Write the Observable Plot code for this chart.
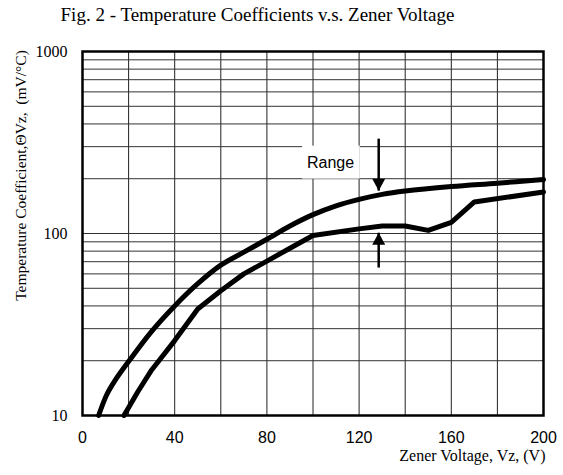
<!DOCTYPE html>
<html>
<head>
<meta charset="utf-8">
<script src="https://cdn.jsdelivr.net/npm/d3@7"></script>
<script src="https://cdn.jsdelivr.net/npm/@observablehq/plot@0.6"></script>
<style>
  body { margin: 0; background: #fff; }
  #title { width: 515px; height: 30px; line-height: 30px; text-align: center;
           font-family: "Liberation Serif", serif; font-size: 19px; color: #000; white-space: nowrap; }
</style>
</head>
<body>
<div id="title">Fig. 2 - Temperature Coefficients v.s. Zener Voltage</div>
<div id="chart"></div>
<script>
// Upper limit curve (V, mV/°C)
const upperV  = [7, 10.5, 14, 20, 30, 40, 50, 60, 70, 80, 90, 100, 110, 120, 130, 140, 160, 180, 200];
const upperTC = [10, 13, 15.5, 19.8, 29, 40, 53, 67, 79, 93, 110, 127, 142, 154, 164, 171, 181, 189, 198];
// Lower limit curve
const lowerV  = [18, 24, 30, 40, 50, 60, 70, 80, 90, 100, 120, 130, 140, 150, 160, 170, 200];
const lowerTC = [10, 13.5, 17.8, 25.8, 38.5, 48.5, 60, 70.5, 83, 97.5, 106, 110, 110, 104, 115, 149, 169];

const xTicks = [0, 40, 80, 120, 160, 200];
const yTicks = [10, 100, 1000];
const xGrid = d3.range(0, 201, 20);
const yGrid = [...d3.range(10, 100, 10), ...d3.range(100, 1001, 100)];

const rangeLabel = "Range";
const rangeBox = {x1: 95.5, x2: 120.5, y1: 199, y2: 302};
const rangeTextPos = {x: 107.6, y: 245};
const arrowX = 128.5;
const downArrow = {from: 332, to: 172};
const upArrow = {from: 65, to: 101};

const yLabel = "Temperature Coefficient,ΘVz,\u00a0\u00a0(mV/°C)";
const xLabel = "Zener Voltage, Vz, (V)";

const upper = upperV.map((v, i) => ({v, tc: upperTC[i]}));
const lower = lowerV.map((v, i) => ({v, tc: lowerTC[i]}));

const triSym = (dir) => ({
  draw(ctx, size) {
    const w = 6.5, h = 12;
    ctx.moveTo(0, 0);
    ctx.lineTo(-w, -dir * h);
    ctx.lineTo(w, -dir * h);
    ctx.closePath();
  }
});

const serif = "Liberation Serif, Times New Roman, serif";
const sans = "Liberation Sans, Arial, sans-serif";

const plot = Plot.plot({
  width: 563,
  height: 445,
  marginLeft: 82,
  marginRight: 20,
  marginTop: 21,
  marginBottom: 60,
  x: {domain: [0, 200]},
  y: {type: "log", domain: [10, 1000]},
  marks: [
    Plot.ruleX(xGrid, {stroke: "#222", strokeWidth: 1}),
    Plot.ruleY(yGrid, {stroke: "#333", strokeWidth: 1}),
    Plot.rect([rangeBox], {x1: "x1", x2: "x2", y1: "y1", y2: "y2", fill: "white"}),
    Plot.text([rangeLabel], {x: rangeTextPos.x, y: rangeTextPos.y, text: d => d, fontFamily: sans, fontSize: 16, fill: "black"}),
    Plot.line(upper, {x: "v", y: "tc", stroke: "black", strokeWidth: 5, curve: "catmull-rom"}),
    Plot.line(lower, {x: "v", y: "tc", stroke: "black", strokeWidth: 5, curve: "linear"}),
    Plot.link([downArrow], {x1: arrowX, x2: arrowX, y1: "from", y2: "to", stroke: "black", strokeWidth: 2.5}),
    Plot.link([upArrow], {x1: arrowX, x2: arrowX, y1: "from", y2: "to", stroke: "black", strokeWidth: 2.5}),
    Plot.dot([downArrow], {x: arrowX, y: "to", symbol: triSym(1), r: 5, fill: "black", stroke: "none"}),
    Plot.dot([upArrow], {x: arrowX, y: "to", symbol: triSym(-1), r: 5, fill: "black", stroke: "none"}),
    Plot.frame({stroke: "black", strokeWidth: 2.5}),
    Plot.axisX(xTicks, {tickSize: 0, tickPadding: 16, fontFamily: sans, fontSize: 16, label: null, tickFormat: d => String(d)}),
    Plot.axisY(yTicks, {tickSize: 0, tickPadding: 15, fontFamily: serif, fontSize: 16, label: null, tickFormat: d => String(d)}),
    Plot.text([xLabel], {frameAnchor: "bottom-right", dx: 2, dy: 45, textAnchor: "end", text: d => d, fontFamily: serif, fontSize: 16, fill: "black"}),
    Plot.text([yLabel], {frameAnchor: "left", dx: -61, dy: -58, rotate: -90, textAnchor: "middle", lineWidth: 100, text: d => d, fontFamily: serif, fontSize: 15.5, fill: "black"})
  ]
});
document.getElementById("chart").appendChild(plot);
</script>
</body>
</html>
